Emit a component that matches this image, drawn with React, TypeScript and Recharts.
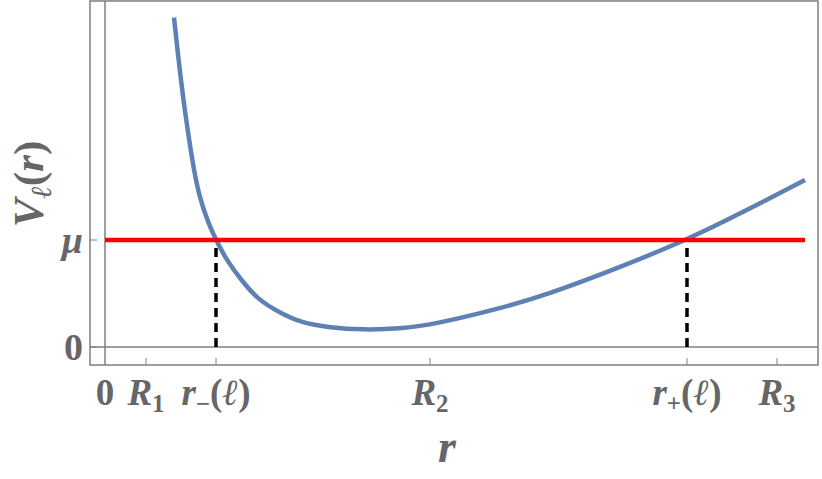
import React from "react";
import {
  LineChart,
  Line,
  XAxis,
  YAxis,
  ReferenceLine,
  ReferenceArea,
} from "recharts";

// curve V_l(r)
const rValues = [0.69, 0.73, 0.783, 0.833, 0.883, 0.95, 1.033, 1.11, 1.217, 1.367, 1.533, 1.75, 1.95, 2.25, 2.58, 2.95, 3.28, 3.95, 4.42, 5.08, 5.82, 6.42, 7.0];
const vValues = [3.08, 2.73, 2.31, 1.99, 1.68, 1.38, 1.16, 1.0, 0.81, 0.62, 0.44, 0.32, 0.23, 0.18, 0.16, 0.17, 0.21, 0.36, 0.49, 0.72, 1.0, 1.28, 1.56];

// x ticks: 0, R1, r-(l), R2, r+(l), R3
const xTicks = [0, 0.41, 1.11, 3.25, 5.82, 6.72];
const xTickNames = ["0", "R1", "r-", "R2", "r+", "R3"];
const yTicks = [0, 1];
const yTickNames = ["0", "μ"];

const mu = 1;
const rMinus = 1.11;
const rPlus = 5.82;
const redEnd = 7.0;

const xDomain = [-0.15, 7.13];
const yDomain = [-0.168, 3.234];

const data = rValues.map((r, i) => ({ r, V: vValues[i] }));

const GRAY = "#7f7f7f";
const TEXT = "#666666";
const FONT = "'Liberation Serif', 'Times New Roman', serif";

function tickLabel(name: string) {
  const sub = { fontSize: 25, fontStyle: "normal" as const };
  if (name === "0") return <tspan fontStyle="normal">0</tspan>;
  if (name[0] === "R")
    return (
      <>
        <tspan fontStyle="italic">R</tspan>
        <tspan dy={7} {...sub}>{name[1]}</tspan>
      </>
    );
  return (
    <>
      <tspan fontStyle="italic">r</tspan>
      <tspan dy={7} {...sub}>{name[1] === "-" ? "−" : "+"}</tspan>
      <tspan dy={-7} fontStyle="normal">(</tspan>
      <tspan fontStyle="italic">ℓ</tspan>
      <tspan fontStyle="normal">)</tspan>
    </>
  );
}

function XTick(props: any) {
  const { x, y, index } = props;
  const name = xTickNames[index];
  return (
    <g>
      {index > 0 && <line x1={x} x2={x} y1={y} y2={y - 7} stroke={GRAY} strokeWidth={1} />}
      <text
        x={x}
        y={y + 40}
        textAnchor="middle"
        fontFamily={FONT}
        fontWeight="bold"
        fontSize={37}
        fill={TEXT}
      >
        {tickLabel(name)}
      </text>
    </g>
  );
}

function YTick(props: any) {
  const { x, y, index } = props;
  const name = yTickNames[index];
  return (
    <g>
      <line x1={x} x2={x + 7} y1={y} y2={y} stroke={GRAY} strokeWidth={1} />
      <text
        x={x - 7}
        y={y + 13}
        textAnchor="end"
        fontFamily={FONT}
        fontWeight="bold"
        fontStyle={name === "μ" ? "italic" : "normal"}
        fontSize={38}
        fill={TEXT}
      >
        {name}
      </text>
    </g>
  );
}

export default function App() {
  return (
    <div style={{ width: 822, height: 479 }}>
      <style>{`body{margin:0}`}</style>
      <LineChart
        width={822}
        height={479}
        data={data}
        margin={{ top: 1, right: 4, left: 0, bottom: 0 }}
      >
        <XAxis
          dataKey="r"
          type="number"
          domain={xDomain}
          allowDataOverflow
          ticks={xTicks}
          interval={0}
          tick={<XTick />}
          tickLine={false}
          axisLine={false}
          tickSize={0}
          tickMargin={0}
          height={114}
          label={{
            content: (p: any) => {
              const vb = p.viewBox;
              return (
                <text
                  x={vb.x + vb.width / 2 - 7}
                  y={vb.y + 97}
                  textAnchor="middle"
                  fontFamily={FONT}
                  fontWeight="bold"
                  fontStyle="italic"
                  fontSize={46}
                  fill={TEXT}
                >
                  r
                </text>
              );
            },
          }}
        />
        <YAxis
          type="number"
          domain={yDomain}
          allowDataOverflow
          ticks={yTicks}
          interval={0}
          tick={<YTick />}
          tickLine={false}
          axisLine={false}
          tickSize={0}
          tickMargin={0}
          width={90}
          label={{
            content: () => (
              <text
                x={43}
                y={184}
                transform="rotate(-90 43 184)"
                textAnchor="middle"
                fontFamily={FONT}
                fontWeight="bold"
                fontSize={43}
                fill={TEXT}
              >
                <tspan fontStyle="italic">V</tspan>
                <tspan dy={8} fontSize={29} fontStyle="italic">ℓ</tspan>
                <tspan dy={-8}>(</tspan>
                <tspan fontStyle="italic">r</tspan>
                <tspan>)</tspan>
              </text>
            ),
          }}
        />
        <ReferenceArea
          x1={xDomain[0]}
          x2={xDomain[1]}
          y1={yDomain[0]}
          y2={yDomain[1]}
          fill="none"
          stroke={GRAY}
          strokeWidth={1.5}
          ifOverflow="visible"
        />
        <ReferenceLine x={0} stroke={GRAY} strokeWidth={1.5} />
        <ReferenceLine y={0} stroke={GRAY} strokeWidth={1.5} />
        <ReferenceLine
          segment={[{ x: rMinus, y: 0 }, { x: rMinus, y: mu }]}
          stroke="#000"
          strokeWidth={3.5}
          strokeDasharray="9 6"
        />
        <ReferenceLine
          segment={[{ x: rPlus, y: 0 }, { x: rPlus, y: mu }]}
          stroke="#000"
          strokeWidth={3.5}
          strokeDasharray="9 6"
        />
        <Line
          dataKey="V"
          type="basis"
          stroke="#5e81b5"
          strokeWidth={4.5}
          dot={false}
          isAnimationActive={false}
        />
        <ReferenceLine
          segment={[{ x: 0, y: mu }, { x: redEnd, y: mu }]}
          stroke="#ff0000"
          strokeWidth={4.5}
        />
      </LineChart>
    </div>
  );
}
